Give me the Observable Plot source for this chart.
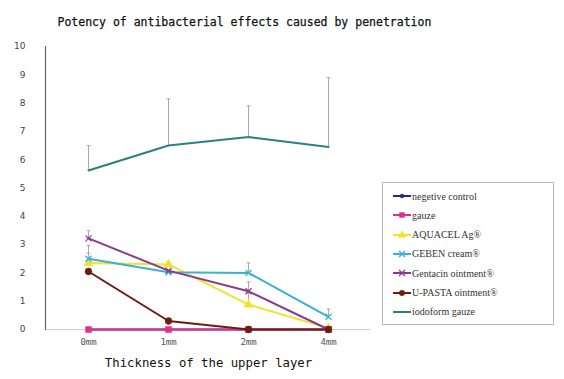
<!DOCTYPE html>
<html>
<head>
<meta charset="utf-8">
<script src="https://cdn.jsdelivr.net/npm/d3@7"></script>
<script src="https://cdn.jsdelivr.net/npm/@observablehq/plot@0.6"></script>
<style>
  body { margin: 0; background: #fff; }
  #wrap { position: relative; width: 564px; height: 379px; overflow: hidden; }
  #legend { position: absolute; left: 382px; top: 182px; width: 172px; height: 143px;
    border: 1px solid #b5b5b5; box-sizing: border-box; background: #fff;
    font-family: "Liberation Serif", serif; font-size: 10px; color: #333; }
  .row { position: absolute; left: 10px; height: 14px; display: flex; align-items: center; }
  .row svg { margin-right: 1px; }
</style>
</head>
<body>
<div id="wrap"></div>
<script>
const thickness = ["0mm", "1mm", "2mm", "4mm"];
const seriesNames = ["negetive control", "gauze", "AQUACEL Ag®", "GEBEN cream®", "Gentacin ointment®", "U-PASTA ointment®", "iodoform gauze"];
const negativeControl = [0, 0, 0, 0];
const gauze = [0, 0, 0, 0];
const aquacel = [2.35, 2.3, 0.88, 0.05];
const geben = [2.5, 2.02, 2.0, 0.45];
const gentacin = [3.22, 2.08, 1.35, 0];
const upasta = [2.05, 0.3, 0, 0];
const iodoform = [5.62, 6.5, 6.8, 6.45];
// upper ends of error bars (null = none visible)
const aquacelErr = [2.7, null, 1.3, null];
const gebenErr = [2.97, null, 2.35, 0.72];
const gentacinErr = [3.5, null, 1.68, null];
const iodoformErr = [6.5, 8.15, 7.9, 8.9];
const yTicks = [0,1,2,3,4,5,6,7,8,9,10];

const colors = ["#1f2a7a", "#e0308a", "#f2e22a", "#3ab0d6", "#8a3a8e", "#6e1c12", "#2b8080"];
const symbols = ["circle", "square", "triangle", "times", "times", "circle", "none"];
const values = [negativeControl, gauze, aquacel, geben, gentacin, upasta, iodoform];
const errs = [null, null, aquacelErr, gebenErr, gentacinErr, null, iodoformErr];

const rows = [];
values.forEach((vals, s) => vals.forEach((v, i) => rows.push({series: seriesNames[s], idx: s, x: thickness[i], y: v})));
const errRows = [];
errs.forEach((e, s) => { if (e) e.forEach((u, i) => { if (u != null) errRows.push({x: thickness[i], y1: values[s][i], y2: u}); }); });

const capSymbol = { draw(ctx, size) { const r = Math.sqrt(size) / 2; ctx.moveTo(-r, 0); ctx.lineTo(r, 0); } };

const marks = [
  Plot.ruleY([0], {stroke: "#cfcfcf", strokeWidth: 1}),
  Plot.frame({anchor: "left", stroke: "#666", strokeWidth: 1.2}),
  Plot.ruleX(errRows, {x: "x", y1: "y1", y2: "y2", stroke: "#aaa", strokeWidth: 1}),
  Plot.dot(errRows, {x: "x", y: "y2", symbol: capSymbol, r: 2.2, stroke: "#aaa", fill: "none", strokeWidth: 1}),
];
seriesNames.forEach((name, s) => {
  const data = rows.filter(d => d.idx === s);
  marks.push(Plot.line(data, {x: "x", y: "y", stroke: colors[s], strokeWidth: 2}));
  if (symbols[s] !== "none") {
    const filled = symbols[s] !== "times";
    marks.push(Plot.dot(data, {x: "x", y: "y", symbol: symbols[s], r: s === 0 ? 2 : (filled ? 3.4 : 2.8),
      fill: filled ? colors[s] : "none", stroke: colors[s], strokeWidth: filled ? 0.5 : 1.3}));
  }
});
marks.push(
  Plot.axisY({ticks: yTicks, tickSize: 0, tickPadding: 20, fontSize: 9, fill: "#444", label: null, fontFamily: "DejaVu Sans"}),
  Plot.axisX({tickSize: 0, tickPadding: 9, fontSize: 9, fill: "#555", label: null, fontFamily: "DejaVu Sans Mono"}),
  Plot.text(["Thickness of the upper layer"], {frameAnchor: "bottom", dy: 37, fontSize: 12.3, fontFamily: "DejaVu Sans Mono", fill: "#111"}),
  Plot.text(["Potency of antibacterial effects caused by penetration"], {frameAnchor: "top-left", textAnchor: "start", dx: 12, dy: -29, fontSize: 11.5, fontFamily: "DejaVu Sans Mono", fill: "#111", stroke: "#111", strokeWidth: 0.25})
);

const chart = Plot.plot({
  width: 564, height: 379,
  marginTop: 46, marginBottom: 50, marginLeft: 45, marginRight: 193,
  style: {background: "#fff", overflow: "visible"},
  x: {type: "point", domain: thickness, padding: 0.52},
  y: {domain: [0, 10]},
  marks
});
const wrap = document.getElementById("wrap");
wrap.appendChild(chart);

// legend
const legend = document.createElement("div");
legend.id = "legend";
seriesNames.forEach((name, s) => {
  const row = document.createElement("div");
  row.className = "row";
  row.style.top = (6 + s * 19.3) + "px";
  const sv = d3.create("svg").attr("width", 18).attr("height", 10);
  sv.append("line").attr("x1", 0).attr("x2", 18).attr("y1", 5).attr("y2", 5).attr("stroke", colors[s]).attr("stroke-width", 2);
  if (symbols[s] !== "none") {
    const sym = {circle: d3.symbolCircle, square: d3.symbolSquare, triangle: d3.symbolTriangle, times: d3.symbolTimes}[symbols[s]];
    const filled = symbols[s] !== "times";
    sv.append("path").attr("transform", "translate(9,5)").attr("d", d3.symbol(sym, s === 0 ? 12 : 24)())
      .attr("fill", filled ? colors[s] : "none").attr("stroke", colors[s]).attr("stroke-width", filled ? 0.5 : 1.3);
  }
  row.appendChild(sv.node());
  const t = document.createElement("span");
  t.textContent = name;
  row.appendChild(t);
  legend.appendChild(row);
});
wrap.appendChild(legend);
</script>
</body>
</html>
